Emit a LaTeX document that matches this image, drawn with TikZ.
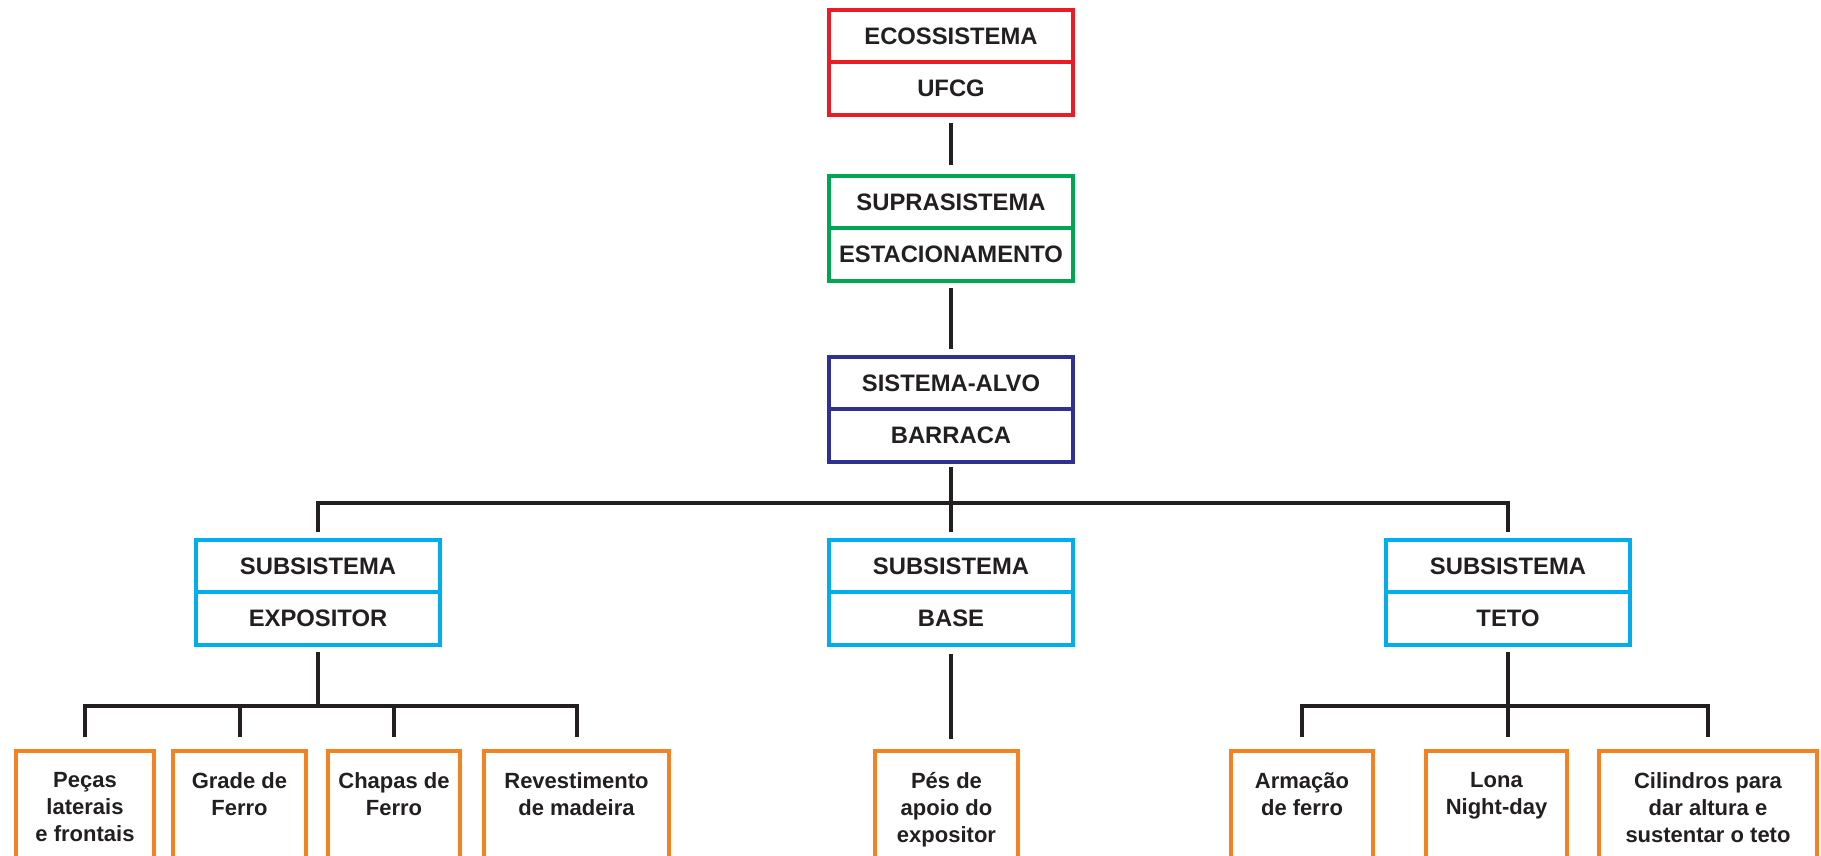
\documentclass[tikz,border=0pt]{standalone}
\usepackage{fontspec}
\setmainfont{Liberation Sans}
\usetikzlibrary{positioning}
\definecolor{ecored}{HTML}{ED1C24}
\definecolor{supgreen}{HTML}{00A651}
\definecolor{alvoblue}{HTML}{2E3192}
\definecolor{subcyan}{HTML}{00AEEF}
\definecolor{leaforange}{HTML}{F58220}
\definecolor{ink}{HTML}{231F20}
\tikzset{
  half/.style={draw, line width=4pt, minimum width=244pt, minimum height=52.5pt,
    inner sep=0pt, outer sep=0pt, text=ink, font=\fontsize{23.8}{28}\selectfont\bfseries},
  leaf/.style={draw=leaforange, line width=4pt, anchor=north, minimum height=150pt,
    inner sep=0pt, outer sep=0pt},
  leaftext/.style={anchor=north, align=center, inner sep=0pt, text=ink,
    font=\fontsize{22}{27.3}\selectfont\bfseries},
  link/.style={draw=ink, line width=4pt},
}
\begin{document}
\begin{tikzpicture}[x=1pt,y=1pt]
\useasboundingbox (0,0) rectangle (1821,-855);
\clip (0,0) rectangle (1821,-855);
% top
\node[half, draw=ecored] (e1) at (951,-36) {ECOSSISTEMA};
\node[half, draw=ecored, below=0pt of e1] (e2) {UFCG};
\node[half, draw=supgreen] (s1) at (951,-202) {SUPRASISTEMA};
\node[half, draw=supgreen, below=0pt of s1] (s2) {ESTACIONAMENTO};
\node[half, draw=alvoblue] (a1) at (951,-383) {SISTEMA-ALVO};
\node[half, draw=alvoblue, below=0pt of a1] (a2) {BARRACA};
% subsystems
\node[half, draw=subcyan] (x1) at (318,-566) {SUBSISTEMA};
\node[half, draw=subcyan, below=0pt of x1] (x2) {EXPOSITOR};
\node[half, draw=subcyan] (b1) at (951,-566) {SUBSISTEMA};
\node[half, draw=subcyan, below=0pt of b1] (b2) {BASE};
\node[half, draw=subcyan] (t1) at (1508,-566) {SUBSISTEMA};
\node[half, draw=subcyan, below=0pt of t1] (t2) {TETO};
% leaves
\node[leaf, minimum width=138pt] (p1) at (85,-751) {};
\node[leaf, minimum width=133pt] (p2) at (239.5,-751) {};
\node[leaf, minimum width=132pt] (p3) at (394,-751) {};
\node[leaf, minimum width=185pt] (p4) at (576.5,-751) {};
\node[leaf, minimum width=143pt] (p5) at (946.5,-751) {};
\node[leaf, minimum width=142pt] (p6) at (1302,-751) {};
\node[leaf, minimum width=141pt] (p7) at (1496.5,-751) {};
\node[leaf, minimum width=218pt] (p8) at (1708,-751) {};
\node[leaftext] (p1t) at (85,-772) {Peças\\laterais\\e frontais};
\node[leaftext] (p2t) at (239.5,-772) {Grade de\\Ferro};
\node[leaftext] (p3t) at (394,-772) {Chapas de\\Ferro};
\node[leaftext] (p4t) at (576.5,-772) {Revestimento\\de madeira};
\node[leaftext] (p5t) at (946.5,-772) {Pés de\\apoio do\\expositor};
\node[leaftext] (p6t) at (1302,-772) {Armação\\de ferro};
\node[leaftext] (p7t) at (1496.5,-772) {Lona\\Night-day};
\node[leaftext] (p8t) at (1708,-772) {Cilindros para\\dar altura e\\sustentar o teto};
% lines
\coordinate (h1) at (0,-503);
\coordinate (h2) at (0,-706);
\draw[link] ([yshift=-8]e2.south) -- ([yshift=11]s1.north);
\draw[link] ([yshift=-7]s2.south) -- ([yshift=8]a1.north);
\draw[link] ([yshift=-5]a2.south) -- ([yshift=8]b1.north);
\draw[link] ([yshift=8]x1.north) |- (h1 -| t1.north) -- ([yshift=8]t1.north);
% expositor
\draw[link] ([yshift=-7]x2.south) -- (x2.south |- h2);
\draw[link] ([yshift=14]p1.north) |- (h2 -| p4.north) -- ([yshift=14]p4.north);
\draw[link] ([yshift=14]p2.north) -- (p2.north |- h2);
\draw[link] ([yshift=14]p3.north) -- (p3.north |- h2);
% base
\draw[link] ([yshift=-9]b2.south) -- ([yshift=12]b2.south |- p5.north);
% teto
\draw[link] ([yshift=-7]t2.south) -- ([yshift=14]t2.south |- p7.north);
\draw[link] ([yshift=14]p6.north) |- (h2 -| p8.north) -- ([yshift=14]p8.north);
\end{tikzpicture}
\end{document}
